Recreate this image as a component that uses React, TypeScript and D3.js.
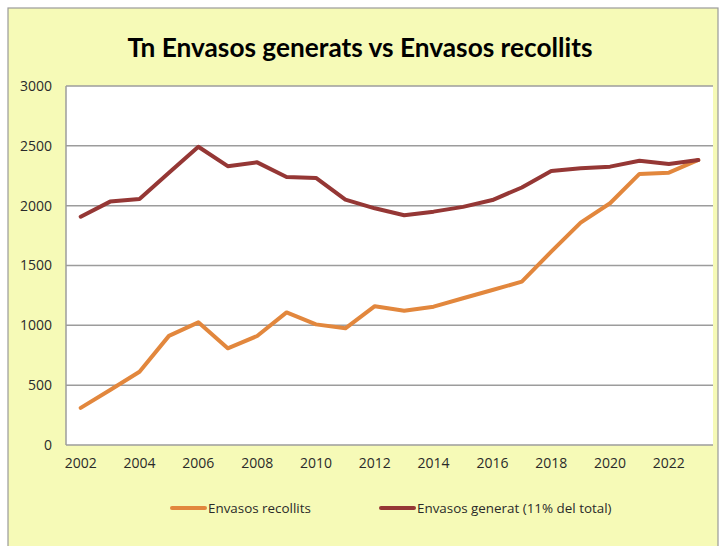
import React from "react";
import * as d3 from "d3";

// anys (categories de l'eix X)
const years = [
  2002, 2003, 2004, 2005, 2006, 2007, 2008, 2009, 2010, 2011, 2012,
  2013, 2014, 2015, 2016, 2017, 2018, 2019, 2020, 2021, 2022, 2023,
];

// Envasos recollits (Tn)
const recollits = [
  310, 460, 612, 912, 1025, 808, 911, 1108, 1008, 975, 1160,
  1122, 1156, 1226, 1295, 1365, 1616, 1858, 2020, 2265, 2276, 2382,
];

// Envasos generat (11% del total)
const generat = [
  1908, 2034, 2056, 2275, 2492, 2330, 2362, 2240, 2232, 2050, 1978,
  1920, 1950, 1990, 2047, 2152, 2290, 2312, 2326, 2376, 2348, 2382,
];

const yTicks = [0, 500, 1000, 1500, 2000, 2500, 3000];
const xTickLabels = [2002, 2004, 2006, 2008, 2010, 2012, 2014, 2016, 2018, 2020, 2022];

const COLOR_RECOLLITS = "#E2873D";
const COLOR_GENERAT = "#953735";
const FONT = "'Open Sans', 'DejaVu Sans', sans-serif";

const App = () => {
  const width = 723;
  const height = 546;
  const plot = { left: 66, right: 713, top: 86, bottom: 445 };

  const x = d3
    .scaleBand<number>()
    .domain(years)
    .range([plot.left, plot.right]);
  const cx = (yr: number) => (x(yr) ?? 0) + x.bandwidth() / 2;

  const y = d3.scaleLinear().domain([0, 3000]).range([plot.bottom, plot.top]);

  const line = d3
    .line<number>()
    .x((_, i) => cx(years[i]))
    .y((d) => y(d));

  return (
    <svg
      width={width}
      height={height}
      style={{ position: "absolute", left: 0, top: 0 }}
    >
      {/* fons del gràfic */}
      <rect x={0} y={0} width={width} height={height} fill="#ffffff" />
      <rect x={8} y={8} width={710} height={height} fill="#F6FAB7" stroke="#9a9a9a" strokeWidth={1.2} />

      {/* títol */}
      <text
        x={360}
        y={57}
        textAnchor="middle"
        fontFamily="Lato, 'Open Sans', sans-serif"
        fontWeight="bold"
        fontSize={27}
        fill="#000"
        textLength={465}
        lengthAdjust="spacingAndGlyphs"
      >
        Tn Envasos generats vs Envasos recollits
      </text>

      {/* àrea de dibuix */}
      <rect
        x={plot.left}
        y={plot.top}
        width={plot.right - plot.left}
        height={plot.bottom - plot.top}
        fill="#ffffff"
      />

      {/* línies de quadrícula + etiquetes Y */}
      {yTicks.map((t) => (
        <g key={t}>
          <line
            x1={plot.left}
            x2={plot.right}
            y1={y(t)}
            y2={y(t)}
            stroke="#9c9c9c"
            strokeWidth={1.5}
          />
          <text
            x={52}
            y={y(t)}
            dy="0.35em"
            textAnchor="end"
            fontFamily={FONT}
            fontSize={14}
            fill="#2a2a2a"
          >
            {t}
          </text>
        </g>
      ))}

      {/* eix Y */}
      <line
        x1={plot.left}
        x2={plot.left}
        y1={plot.top}
        y2={plot.bottom}
        stroke="#9c9c9c"
        strokeWidth={1.5}
      />

      {/* etiquetes X */}
      {xTickLabels.map((yr) => (
        <text
          key={yr}
          x={cx(yr)}
          y={468}
          textAnchor="middle"
          fontFamily={FONT}
          fontSize={14}
          fill="#2a2a2a"
        >
          {yr}
        </text>
      ))}

      {/* sèries */}
      <path
        d={line(recollits) ?? ""}
        fill="none"
        stroke={COLOR_RECOLLITS}
        strokeWidth={4}
        strokeLinejoin="round"
        strokeLinecap="round"
      />
      <path
        d={line(generat) ?? ""}
        fill="none"
        stroke={COLOR_GENERAT}
        strokeWidth={4}
        strokeLinejoin="round"
        strokeLinecap="round"
      />

      {/* llegenda */}
      <g>
        <line x1={172} x2={205} y1={508} y2={508} stroke={COLOR_RECOLLITS} strokeWidth={4} strokeLinecap="round" />
        <text x={208} y={508} dy="0.35em" fontFamily={FONT} fontSize={13.4} fill="#2a2a2a">
          Envasos recollits
        </text>
        <line x1={381} x2={414} y1={508} y2={508} stroke={COLOR_GENERAT} strokeWidth={4} strokeLinecap="round" />
        <text x={417} y={508} dy="0.35em" fontFamily={FONT} fontSize={13.4} fill="#2a2a2a">
          Envasos generat (11% del total)
        </text>
      </g>
    </svg>
  );
};

export default App;
